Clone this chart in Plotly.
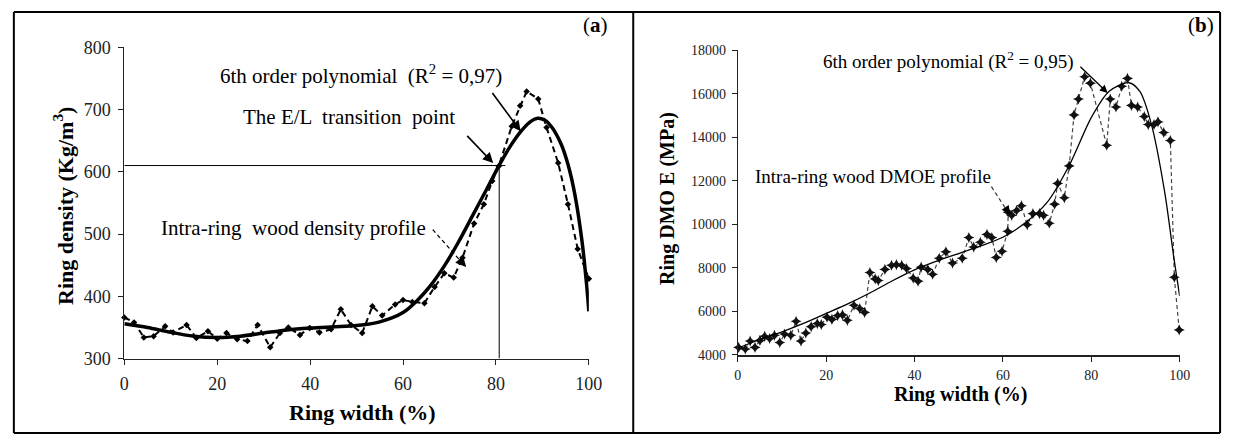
import plotly.graph_objects as go

W, H = 1238, 444

# ---------------- Panel (a): ring density ----------------
a_x = [0, 2.1, 4.2, 6.3, 8.8, 10.5, 13.4, 15.5, 18, 20, 22, 24.3, 26.5, 28.7, 31.4,
       33.5, 35.3, 37.8, 39.9, 42, 44.5, 46.6, 48.8, 51.2, 53.4, 55.5, 58.3, 60.0,
       62.0, 64.6, 66.8, 68.9, 70.9, 72.8, 75.3, 77.4, 79.2, 80.6, 83.4, 85.2, 86.6,
       89.1, 90.9, 93.4, 95.5, 97.6, 100]
a_y = [366, 358, 334, 336, 352, 342, 354, 333, 344, 332, 341, 331, 328, 354, 318,
       341, 350, 338, 349, 342, 347, 379, 354, 341, 384, 369, 387, 394,
       391, 389, 415, 437, 430, 462, 517, 548, 585, 609, 673, 706, 729,
       717, 671, 614, 548, 476, 428]

a_fit_x = [0, 5, 10, 15, 20, 25, 30, 35, 40, 45, 50, 55, 60, 63, 66, 69, 72, 75, 78,
           80.6, 83, 85.5, 87.5, 89, 90.5, 92, 94, 95.5, 97, 98.5, 99.5, 100]
a_fit_y = [356, 350, 342, 336, 334, 336, 341, 346, 349, 351, 353, 359, 374, 393,
           418, 450, 488, 530, 572, 609, 640, 666, 681, 686, 683, 672, 645, 612, 563,
           490, 420, 376]

a_yticks = [300, 400, 500, 600, 700, 800]
x_ticks = [0, 20, 40, 60, 80, 100]
a_transition = (80.7, 610)

# ---------------- Panel (b): ring DMOE ----------------
b_x = [0.2, 1.7, 2.8, 3.9, 5.0, 6.1, 7.2, 8.3, 9.5, 10.6, 12.0, 13.2, 14.3, 15.4,
       16.6, 18.0, 18.9, 20.2, 21.3, 22.6, 23.7, 24.8, 26.3, 27.6, 28.7, 29.9,
       31.1, 31.8, 33.3, 34.8, 35.9, 37.1, 38.2, 39.7, 40.8, 41.5, 43.0, 44.1,
       45.6, 47.1, 48.6, 50.8, 52.3, 53.4, 54.9, 56.4, 57.5, 58.5, 59.8, 61.1,
       61.2, 62.0, 63.1, 64.2, 65.5, 66.8, 68.3, 69.2, 70.5, 71.7, 72.4, 73.9,
       75.0, 76.1, 77.1, 78.5, 79.8, 83.5, 84.3, 85.6, 86.9, 88.2, 89.1, 90.5,
       92.0, 92.9, 94.2, 95.1, 96.4, 97.9, 98.8, 99.9]
b_y = [4338, 4263, 4628, 4338, 4658, 4847, 4746, 4891, 4557, 4953, 4891, 5537,
       4628, 4997, 5288, 5434, 5390, 5727, 5624, 5800, 5829, 5580, 6269, 6122,
       5946, 7775, 7482, 7410, 7921, 8113, 8140, 8113, 7964, 7525, 7380, 8025,
       7920, 7700, 8434, 8728, 8214, 8434, 9386, 8947, 9167, 9531, 9386, 8465,
       8754, 9676, 10554, 10409, 10629, 10848, 9970, 10482, 10482, 10409, 10043,
       10921, 11871, 11212, 12679, 15019, 15752, 16775, 16481, 13627, 15752,
       15386, 16335, 16700, 15460, 15386, 14945, 14580, 14580, 14698, 14213,
       13847, 7556, 5141]

b_fit_x = [0, 5, 10, 15, 20, 25, 30, 35, 40, 45, 50, 55, 60, 65, 70, 75, 80, 84,
           88.5, 91, 93.6, 96.6, 98.8, 100]
b_fit_y = [4300, 4700, 5050, 5450, 5900, 6350, 6850, 7400, 7900, 8300, 8650, 9000,
           9400, 10050, 11000, 12700, 14900, 16100, 16500, 16100, 14600, 11500,
           8300, 6700]

b_yticks = [4000, 6000, 8000, 10000, 12000, 14000, 16000, 18000]


def px(x):
    return x / W


def py(y):
    return 1 - y / H


SERIF = "Liberation Serif, Times New Roman, serif"

fig = go.Figure()

# panel a traces
fig.add_trace(go.Scatter(x=a_x, y=a_y, mode="lines+markers", xaxis="x", yaxis="y",
                         line=dict(color="black", width=2, dash="6px,4px"),
                         marker=dict(symbol="diamond", size=5, color="black"),
                         cliponaxis=False, showlegend=False))
fig.add_trace(go.Scatter(x=a_fit_x, y=a_fit_y, mode="lines", xaxis="x", yaxis="y",
                         line=dict(color="black", width=3.5, shape="spline", smoothing=0.8),
                         cliponaxis=False, showlegend=False))
# transition lines
fig.add_trace(go.Scatter(x=[0, 82], y=[a_transition[1], a_transition[1]], mode="lines",
                         xaxis="x", yaxis="y", line=dict(color="black", width=1),
                         showlegend=False, cliponaxis=False))
fig.add_trace(go.Scatter(x=[a_transition[0], a_transition[0]], y=[300, a_transition[1]],
                         mode="lines", xaxis="x", yaxis="y", line=dict(color="black", width=1),
                         showlegend=False, cliponaxis=False))
# dashed leader (a)
fig.add_trace(go.Scatter(x=[66.4, 72.6], y=[507, 455], mode="lines", xaxis="x", yaxis="y",
                         line=dict(color="black", width=1.3, dash="4px,3px"),
                         showlegend=False))

# panel b traces
fig.add_trace(go.Scatter(x=b_x, y=b_y, mode="lines+markers", xaxis="x2", yaxis="y2",
                         line=dict(color="#444", width=1.2, dash="4px,3px"),
                         marker=dict(symbol="star-diamond", size=8, color="#111"),
                         cliponaxis=False, showlegend=False))
fig.add_trace(go.Scatter(x=b_fit_x, y=b_fit_y, mode="lines", xaxis="x2", yaxis="y2",
                         line=dict(color="black", width=1.3, shape="spline", smoothing=0.8),
                         cliponaxis=False, showlegend=False))
fig.add_trace(go.Scatter(x=[57.4, 61.0], y=[11726, 10600], mode="lines", xaxis="x2", yaxis="y2",
                         line=dict(color="#333", width=1.2, dash="4px,3px"),
                         showlegend=False))

axis_common = dict(showgrid=False, zeroline=False, showline=True, linecolor="#222",
                   linewidth=1, ticks="outside", ticklen=5, tickcolor="#222", tickwidth=1)

fig.update_layout(
    width=W, height=H, margin=dict(l=0, r=0, t=0, b=0),
    paper_bgcolor="white", plot_bgcolor="white",
    xaxis=dict(domain=[px(122), px(593)], range=[0, 100], tickvals=x_ticks,
               tickfont=dict(family=SERIF, size=18, color="#222"), anchor="y",
               ticklabelstandoff=4, **axis_common),
    yaxis=dict(domain=[py(365), py(39)], range=[300, 800], tickvals=a_yticks,
               tickfont=dict(family=SERIF, size=18, color="#222"), anchor="x",
               ticklabelstandoff=4, **axis_common),
    xaxis2=dict(domain=[px(744), px(1192)], range=[0, 100], tickvals=x_ticks,
                tickfont=dict(family=SERIF, size=14, color="#222"), anchor="y2",
                ticklabelstandoff=2, **{**axis_common, "linewidth": 1.6}),
    yaxis2=dict(domain=[py(361), py(42)], range=[4000, 18000], tickvals=b_yticks,
                ticktext=[str(v) for v in b_yticks],
                tickfont=dict(family=SERIF, size=14, color="#222"), anchor="x2",
                ticklabelstandoff=3, **axis_common),
)

ann = []


def paper_text(text, x, y, size, angle=0):
    ann.append(dict(text=text, x=px(x), y=py(y), xref="paper", yref="paper",
                    xanchor="center", yanchor="middle", textangle=angle, showarrow=False,
                    font=dict(family=SERIF, size=size, color="black")))


# axis titles
paper_text("<b>Ring density (Kg/m<sup>3</sup>)</b>", 60, 205, 22, angle=-90)
paper_text("<b>Ring width (%)</b>", 363, 421, 22)
paper_text("<b>Ring DMO E (MPa)</b>", 672, 197, 20, angle=-90)
paper_text("<b>Ring width (%)</b>", 970, 403, 20)
# panel labels
paper_text("(<b>a</b>)", 600, 16, 21)
paper_text("(<b>b</b>)", 1214, 16, 21)


def data_text(text, x, y, xr, yr, size):
    ann.append(dict(text=text, x=x, y=y, xref=xr, yref=yr, xanchor="center",
                    yanchor="middle", showarrow=False,
                    font=dict(family=SERIF, size=size, color="black")))


def arrow(x, y, ax, ay, xr, yr, size=1.3, width=1.5):
    ann.append(dict(text="", x=x, y=y, ax=ax, ay=ay, xref=xr, yref=yr, axref=xr, ayref=yr,
                    showarrow=True, arrowhead=2, arrowsize=size, arrowwidth=width,
                    arrowcolor="black"))


# panel a text labels
data_text("6th order polynomial  (R<sup>2</sup> = 0,97)", 50.9, 757, "x", "y", 21)
data_text("The E/L  transition  point", 48.4, 688, "x", "y", 21)
data_text("Intra-ring  wood density profile", 36.5, 510, "x", "y", 21)
arrow(85.3, 665, 79, 729, "x", "y", 1.3, 1.6)
arrow(79.4, 614, 73.5, 660, "x", "y", 1.3, 1.6)
arrow(73.6, 447, 72.0, 460, "x", "y", 1.4, 1.5)

# panel b text labels
data_text("6th order polynomial (R<sup>2</sup> = 0,95)", 47.7, 17520, "x2", "y2", 19)
data_text("Intra-ring wood DMOE profile", 30.5, 12210, "x2", "y2", 19)
arrow(83.7, 16030, 77.2, 17300, "x2", "y2", 1.2, 1.3)
arrow(61.6, 10450, 60.6, 10750, "x2", "y2", 1.3, 1.3)

fig.update_layout(annotations=ann)

# frame around the figure
frame = dict(color="black", width=2)
shapes = [
    dict(type="line", xref="paper", yref="paper", x0=px(10), x1=px(1233), y0=py(2), y1=py(2), line=frame),
    dict(type="line", xref="paper", yref="paper", x0=px(10), x1=px(1233), y0=py(443), y1=py(443), line=frame),
    dict(type="line", xref="paper", yref="paper", x0=px(10), x1=px(10), y0=py(2), y1=py(443), line=frame),
    dict(type="line", xref="paper", yref="paper", x0=px(638), x1=px(638), y0=py(2), y1=py(443), line=frame),
    dict(type="line", xref="paper", yref="paper", x0=px(1233), x1=px(1233), y0=py(2), y1=py(443), line=frame),
]
fig.update_layout(shapes=shapes)

fig.write_html("out.html")
